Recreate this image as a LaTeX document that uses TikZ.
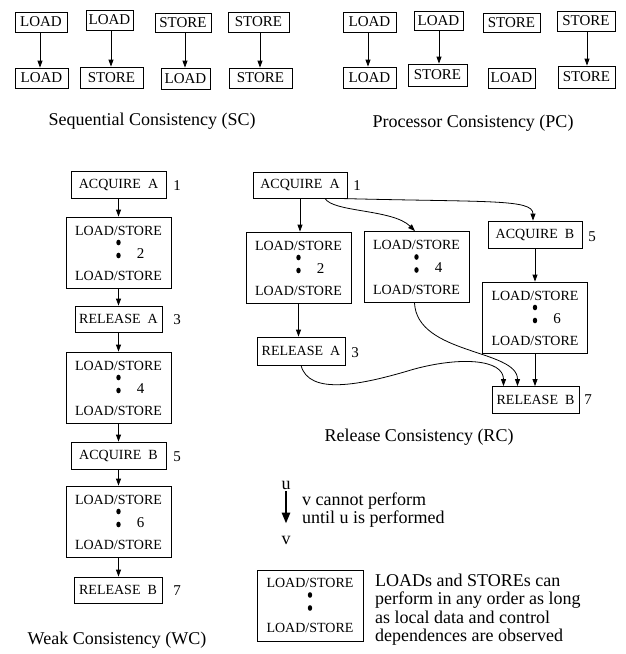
\documentclass[tikz,border=0pt]{standalone}
\usepackage{fontspec}
\setmainfont{Liberation Serif}
\usetikzlibrary{arrows.meta}
\tikzset{
  arr/.style={line width=0.8pt, -{Triangle[length=7pt,width=5pt]}},
  tbox/.style={draw, line width=0.8pt, inner sep=0pt, font=\fontsize{15}{17}\selectfont},
  fbox/.style={draw, line width=0.8pt, inner sep=0pt, font=\fontsize{14}{16}\selectfont},
  lsframe/.style={draw, line width=0.8pt, minimum width=105pt, minimum height=71pt, inner sep=0pt},
  lstext/.style={inner sep=0pt, font=\fontsize{14}{16}\selectfont},
  numl/.style={inner sep=0pt, font=\fontsize{15}{17}\selectfont},
  capt/.style={inner sep=0pt, font=\fontsize{18}{20}\selectfont},
  legt/.style={inner sep=0pt, font=\fontsize{18}{18.5}\selectfont, align=left},
}
\newcommand\lsgroup[4]{%
  \node[lsframe] (#1) at (#2,#3) {};
  \node[lstext] (#1t) at ({#2},{#3-22}) {LOAD/STORE};
  \node[lstext] (#1b) at ({#2},{#3+23}) {LOAD/STORE};
  \fill ({#2},{#3-10}) ellipse [x radius=2.2, y radius=2.8];
  \fill ({#2},{#3+3}) ellipse [x radius=2.2, y radius=2.8];
  \node[numl] (#1n) at ({#2+22},{#3+1}) {#4};
}
\begin{document}
\begin{tikzpicture}[x=1pt,y=-1pt]
\useasboundingbox (0,0) rectangle (625,654);
% ---------- Sequential Consistency ----------
\node[tbox, minimum width=52pt, minimum height=20pt] (s1) at (41,22) {LOAD};
\node[tbox, minimum width=47pt, minimum height=20pt] (s2) at (109.5,20) {LOAD};
\node[tbox, minimum width=56pt, minimum height=19pt] (s3) at (183,22.5) {STORE};
\node[tbox, minimum width=61pt, minimum height=20pt] (s4) at (258.5,22) {STORE};
\node[tbox, minimum width=53pt, minimum height=20pt] (t1) at (41.5,78) {LOAD};
\node[tbox, minimum width=63pt, minimum height=21pt] (t2) at (111.5,77.5) {STORE};
\node[tbox, minimum width=49pt, minimum height=21pt] (t3) at (185.5,78.5) {LOAD};
\node[tbox, minimum width=63pt, minimum height=20pt] (t4) at (260.5,78) {STORE};
\draw[arr] ([xshift=-1pt]s1.south) -- ([xshift=-1pt]s1.south |- t1.north);
\draw[arr] ([xshift=1.5pt]s2.south) -- ([xshift=1.5pt]s2.south |- t2.north);
\draw[arr] ([xshift=2pt]s3.south) -- ([xshift=2pt]s3.south |- t3.north);
\draw[arr] ([xshift=1.5pt]s4.south) -- ([xshift=1.5pt]s4.south |- t4.north);
\node[capt] (capsc) at (152,121) {Sequential Consistency (SC)};
% ---------- Processor Consistency ----------
\node[tbox, minimum width=53pt, minimum height=20pt] (p1) at (369.5,22) {LOAD};
\node[tbox, minimum width=49pt, minimum height=19pt] (p2) at (438.5,20.5) {LOAD};
\node[tbox, minimum width=57pt, minimum height=19pt] (p3) at (511.5,22.5) {STORE};
\node[tbox, minimum width=58pt, minimum height=20pt] (p4) at (586,21) {STORE};
\node[tbox, minimum width=53pt, minimum height=21pt] (q1) at (369.5,77.5) {LOAD};
\node[tbox, minimum width=59pt, minimum height=22pt] (q2) at (437.5,75) {STORE};
\node[tbox, minimum width=47pt, minimum height=20pt] (q3) at (511.5,78) {LOAD};
\node[tbox, minimum width=57pt, minimum height=22pt] (q4) at (586.5,77) {STORE};
\draw[arr] ([xshift=-1.5pt]p1.south) -- ([xshift=-1.5pt]p1.south |- q1.north);
\draw[arr] ([xshift=0.5pt]p2.south) -- ([xshift=0.5pt]p2.south |- q2.north);
\draw[arr] ([xshift=1pt]p4.south) -- ([xshift=1pt]p4.south |- q4.north);
\node[capt] (cappc) at (473,123) {Processor Consistency (PC)};
% ---------- Weak Consistency ----------
\node[fbox, minimum width=95pt, minimum height=27pt] (w1) at (118.5,184.5) {ACQUIRE\ \ A};
\node[numl] (w1n) at (177,186) {1};
\lsgroup{w2}{118.5}{252.5}{2}
\node[fbox, minimum width=87pt, minimum height=26pt] (w3) at (118.5,319) {RELEASE\ \ A};
\node[numl] (w3n) at (177,320) {3};
\lsgroup{w4}{118.5}{387.5}{4}
\node[fbox, minimum width=95pt, minimum height=27pt] (w5) at (118.5,455.5) {ACQUIRE\ \ B};
\node[numl] (w5n) at (177,457) {5};
\lsgroup{w6}{118.5}{521.5}{6}
\node[fbox, minimum width=88pt, minimum height=26pt] (w7) at (118,590) {RELEASE\ \ B};
\node[numl] (w7n) at (177,591) {7};
\draw[arr] (w1.south) -- (w1.south |- w2.north);
\draw[arr] (w2.south) -- (w2.south |- w3.north);
\draw[arr] (w3.south) -- (w3.south |- w4.north);
\draw[arr] (w4.south) -- (w4.south |- w5.north);
\draw[arr] (w5.south) -- (w5.south |- w6.north);
\draw[arr] (w6.south) -- (w6.south |- w7.north);
\node[capt] (capwc) at (117,640) {Weak Consistency (WC)};
% ---------- Release Consistency ----------
\node[fbox, minimum width=94pt, minimum height=26pt] (r1) at (300,185) {ACQUIRE\ \ A};
\node[numl] (r1n) at (357,186) {1};
\lsgroup{r2}{298.5}{267.5}{2}
\lsgroup{r4}{416.5}{267}{4}
\node[fbox, minimum width=94pt, minimum height=27pt] (r5) at (535,234.5) {ACQUIRE\ \ B};
\node[numl] (r5n) at (592,237) {5};
\lsgroup{r6}{535}{317.5}{6}
\node[fbox, minimum width=88pt, minimum height=28pt] (r3) at (301,351) {RELEASE\ \ A};
\node[numl] (r3n) at (355,353) {3};
\node[fbox, minimum width=87pt, minimum height=27pt] (r7) at (535.5,400) {RELEASE\ \ B};
\node[numl] (r7n) at (588,400) {7};
\coordinate (r7a) at ([xshift=-32pt]r7.north);
\coordinate (r7b) at ([xshift=-18pt]r7.north);
\draw[arr] (r1.south) -- (r1.south |- r2.north);
\draw[arr] (r2.south) -- (r2.south |- r3.north);
\draw[arr] (r5.south) -- (r5.south |- r6.north);
\draw[arr] (r6.south) -- (r6.south |- r7.north);
\draw[arr] ([xshift=25pt]r1.south) .. controls +(8,14) and +(-22,-22) .. ([xshift=-1.5pt]r4.north);
\draw[arr] ([xshift=37pt]r1.south) .. controls +(150,4) and +(0,-22) .. ([xshift=-2pt]r5.north);
\draw[arr] ([xshift=-2pt]r4.south) .. controls +(2.5,52) and +(0,-37) .. (r7b);
\draw[arr] (r3.south) .. controls +(8,30) and +(-53,16) .. ++(112,4)
  .. controls +(47,-13) and +(0,-27) .. (r7a);
\node[capt] (caprc) at (419,437) {Release Consistency (RC)};
% ---------- Legend ----------
\node[legt] (u) at (286,485) {u};
\node[legt] (v) at (286,540) {v};
\draw[line width=2.6pt, -{Triangle[length=11pt,width=8pt]}, shorten <=2pt, shorten >=12pt] (u.south) -- (v.north);
\node[legt, anchor=west] (lt1) at (302,510) {v cannot perform\\until u is performed};
\node[lsframe, minimum width=106pt] (lg) at (310,605.5) {};
\node[lstext] (lgt) at (310,583) {LOAD/STORE};
\node[lstext] (lgb) at (310,628) {LOAD/STORE};
\fill (310,595) ellipse [x radius=2.2, y radius=2.8];
\fill (310,608) ellipse [x radius=2.2, y radius=2.8];
\node[legt, anchor=west] (lt2) at (375,609.5) {LOADs and STOREs can\\perform in any order as long\\as local data and control\\dependences are observed};
\end{tikzpicture}
\end{document}
